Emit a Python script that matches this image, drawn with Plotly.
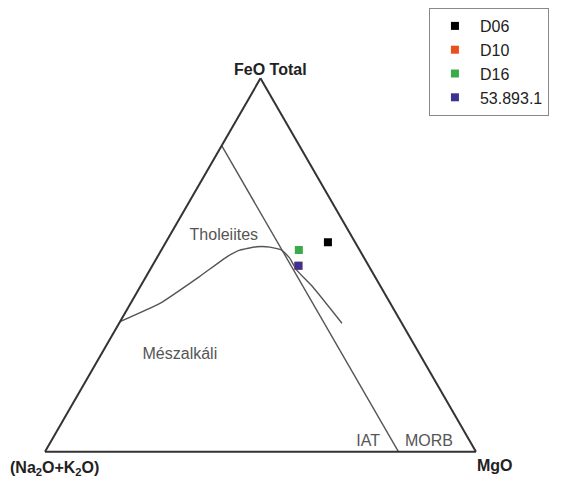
import plotly.graph_objects as go

# Sample points (FeO total, Na2O+K2O, MgO) as fractions
samples = ["D06", "D10", "D16", "53.893.1"]
feo = [0.561, 0.498, 0.540, 0.498]
alk = [0.063, 0.163, 0.141, 0.163]
mgo = [0.376, 0.339, 0.319, 0.339]
colors = ["#000000", "#e8501e", "#3aaa4a", "#3c3291"]

# Irvine & Baragar curve (tholeiitic / calc-alkaline)
curve_feo = [0.348, 0.397, 0.469, 0.522, 0.540, 0.549, 0.548, 0.540, 0.519, 0.487, 0.441, 0.344]
curve_alk = [0.652, 0.535, 0.407, 0.317, 0.278, 0.234, 0.204, 0.181, 0.173, 0.173, 0.158, 0.139]
curve_mgo = [0.000, 0.068, 0.124, 0.161, 0.182, 0.217, 0.248, 0.279, 0.308, 0.340, 0.401, 0.517]

# IAT / MORB boundary
line_feo = [0.82, 0.0]
line_alk = [0.18, 0.18]
line_mgo = [0.0, 0.82]

# Field labels
field_names = ["Tholeiites", "Mészalkáli", "IAT", "MORB"]
field_feo = [0.578, 0.258, 0.026, 0.026]
field_alk = [0.296, 0.558, 0.237, 0.096]
field_mgo = [0.126, 0.184, 0.737, 0.878]

fig = go.Figure()

fig.add_trace(go.Scatterternary(
    a=curve_feo, b=curve_alk, c=curve_mgo, mode="lines",
    line=dict(color="#555555", width=1.4, shape="spline", smoothing=0.4),
    showlegend=False, hoverinfo="skip"))
fig.add_trace(go.Scatterternary(
    a=line_feo, b=line_alk, c=line_mgo, mode="lines",
    line=dict(color="#555555", width=1.4), showlegend=False, hoverinfo="skip"))
fig.add_trace(go.Scatterternary(
    a=field_feo, b=field_alk, c=field_mgo, mode="text", text=field_names,
    textposition="middle center",
    textfont=dict(family="Liberation Sans, Arial", size=16, color="#555555"),
    showlegend=False, hoverinfo="skip"))

for name, a, b, c, col in zip(samples, feo, alk, mgo, colors):
    fig.add_trace(go.Scatterternary(
        a=[a], b=[b], c=[c], mode="markers", name=name,
        marker=dict(symbol="square", size=8, color=col)))

axis_common = dict(showticklabels=False, ticks="", showgrid=False,
                   linecolor="#333333", linewidth=2, title=dict(text=""))

fig.update_layout(
    width=562, height=482,
    margin=dict(l=0, r=0, t=0, b=0),
    paper_bgcolor="white",
    font=dict(family="Liberation Sans, Arial", color="#222222"),
    ternary=dict(
        sum=1,
        bgcolor="white",
        domain=dict(x=[0.0658, 0.8327], y=[0.0668, 0.8668]),
        aaxis=axis_common, baxis=axis_common, caxis=axis_common,
    ),
    legend=dict(
        x=0.749, y=1.0, xanchor="left", yanchor="top",
        bgcolor="white", bordercolor="#888888", borderwidth=1,
        itemwidth=40,
        font=dict(size=16, color="#222222"),
    ),
    annotations=[
        dict(text="<b>FeO Total</b>", x=0.4662, y=0.8734, xref="paper", yref="paper",
             xanchor="center", yanchor="middle",
             showarrow=False, font=dict(size=16, color="#222222")),
        dict(text="<b>(Na<sub>2</sub>O+K<sub>2</sub>O)</b>", x=0.0, y=0.0456,
             xref="paper", yref="paper", xanchor="left", yanchor="middle",
             showarrow=False, font=dict(size=16, color="#222222")),
        dict(text="<b>MgO</b>", x=0.8665, y=0.0498, xref="paper", yref="paper",
             xanchor="center", yanchor="middle",
             showarrow=False, font=dict(size=16, color="#222222")),
    ],
)

fig.write_html("out.html")
